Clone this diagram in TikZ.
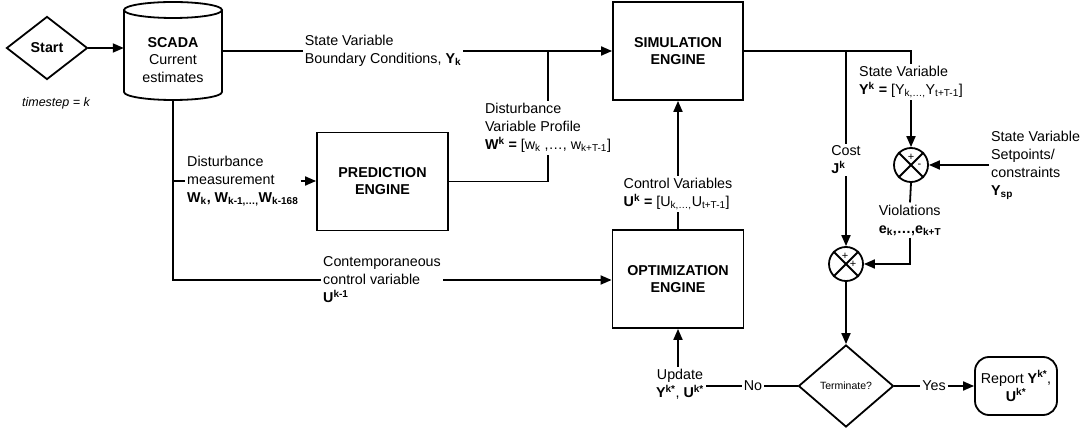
\documentclass[tikz,border=0pt]{standalone}
\usepackage{fontspec}
\setmainfont{Liberation Sans}
\usetikzlibrary{shapes.geometric,arrows.meta,calc}

\tikzset{
  wire/.style={line width=1.8pt},
  arr/.style={wire,-{Triangle[length=11pt,width=9pt]}},
  proc/.style={draw,line width=1.8pt,minimum width=131pt,minimum height=98pt,
    font=\bfseries\fontsize{14.3}{17}\selectfont,align=center,inner sep=0pt},
  lbl/.style={font=\fontsize{14.3}{18}\selectfont,align=left,inner sep=2pt},
  lblc/.style={lbl,align=center},
  sumnode/.style={circle,draw,line width=1.8pt,minimum size=34pt,inner sep=0pt},
  sign/.style={font=\fontsize{11}{11}\selectfont,inner sep=0pt},
  decision/.style={diamond,draw,line width=1.8pt,inner sep=0pt,aspect=1},
}

\begin{document}
\begin{tikzpicture}[x=1pt,y=1pt]
\useasboundingbox (0,0) rectangle (1088,-430);

% start and data source
\node[decision,minimum width=81pt,minimum height=63pt,
      font=\bfseries\fontsize{14.3}{17}\selectfont] (start) at (47,-48) {Start};
\node[font=\itshape\fontsize{12.5}{15}\selectfont] (ts) at (56,-103) {timestep = k};

\draw[wire] (124,-10) -- (124,-92) arc[start angle=180,end angle=360,x radius=49,y radius=8] -- (222,-10);
\draw[wire] (173,-10) ellipse [x radius=49,y radius=8];
\node[minimum width=98pt,minimum height=98pt,inner sep=0pt] (scada) at (173,-51) {};
\node[font=\fontsize{14.3}{17.5}\selectfont,align=center] (scadatext) at (173,-60)
  {\textbf{SCADA}\\Current\\estimates};

% engines
\node[proc,minimum width=130pt] (sim) at (678,-51) {SIMULATION\\ENGINE};
\node[proc] (pred) at (382.5,-181.5) {PREDICTION\\ENGINE};
\node[proc] (opt) at (678,-279) {OPTIMIZATION\\ENGINE};

% summing junctions
\node[sumnode] (c1) at (911,-165) {};
\draw[wire] (c1.45) -- (c1.225) (c1.135) -- (c1.315);
\node[sign] (c1a) at ($(c1)+(0,8)$) {+};
\node[sign] (c1b) at ($(c1)+(8.5,-1)$) {-};
\node[sumnode] (c2) at (846,-264) {};
\draw[wire] (c2.45) -- (c2.225) (c2.135) -- (c2.315);
\node[sign] (c2a) at ($(c2)+(-1,8)$) {+};
\node[sign] (c2b) at ($(c2)+(7,0)$) {+};

% termination
\node[decision,minimum width=95pt,minimum height=82pt,
      font=\fontsize{10.5}{12}\selectfont] (term) at (846,-386) {Terminate?};
\node[draw,line width=1.8pt,rounded corners=14pt,minimum width=82pt,minimum height=58pt,
      inner sep=0pt,align=center,font=\fontsize{14.3}{18}\selectfont] (report) at (1016,-386)
  {Report \textbf{Y\textsuperscript{k*}},\\\textbf{U\textsuperscript{k*}}};

% connector labels
\node[lbl] (lblY) at (383,-51) {State Variable\\Boundary Conditions, \textbf{Y\textsubscript{k}}};
\node[lbl] (lblW) at (548,-128) {Disturbance\\Variable Profile\\\textbf{W\textsuperscript{k} =} [w\textsubscript{k} ,…, w\textsubscript{k+T-1}]};
\node[lbl,anchor=west] (lblDM) at (185,-181) {Disturbance\\measurement\\\textbf{W\textsubscript{k}, W\textsubscript{k-1,…,}W\textsubscript{k-168}}};
\node[lbl,anchor=west] (lblCV) at (321,-280) {Contemporaneous\\control variable\\\textbf{U\textsuperscript{k-1}}};
\node[lbl] (lblCtrl) at (678,-194) {Control Variables\\\textbf{U\textsuperscript{k} =} [U\textsubscript{k,…,}U\textsubscript{t+T-1}]};
\node[lbl] (lblYk) at (911,-82) {State Variable\\\textbf{Y\textsuperscript{k} =} [Y\textsubscript{k,…,}Y\textsubscript{t+T-1}]};
\node[lbl] (lblJ) at (846,-160) {Cost\\\textbf{J\textsuperscript{k}}};
\node[lbl,anchor=west] (lblSP) at (989,-165) {State Variable\\Setpoints/\\constraints\\\textbf{Y\textsubscript{sp}}};
\node[lbl] (lblV) at (910,-220) {Violations\\\textbf{e\textsubscript{k},…,e\textsubscript{k+T}}};
\node[lblc] (lblUp) at (680,-384) {Update\\\textbf{Y\textsuperscript{k*}}, \textbf{U\textsuperscript{k*}}};
\node[lbl] (lblNo) at (753,-386) {No};
\node[lbl] (lblYes) at (934,-386) {Yes};

% connectors
\draw[arr] (start.east) -- (start.east -| scada.west);
\draw[wire] (scada.east) -- (lblY.west);
\draw[arr] (lblY.east) -- (sim.west);
\coordinate (jW) at (lblW.north |- sim.west);
\draw[wire] (jW) -- (lblW.north);
\draw[wire] (pred.east) -- (pred.east -| lblW.south) -- (lblW.south);

\coordinate (cbl) at (scada.south |- lblCV.west);
\draw[wire] (scada.south) -- (cbl) -- (lblCV.west);
\draw[arr] (lblCV.east) -- (lblCV.east -| opt.west);
\draw[wire] (scada.south |- lblDM.west) -- (lblDM.west);
\draw[arr] (lblDM.east) -- (lblDM.east -| pred.west);

\draw[wire] (opt.north) -- (lblCtrl.south);
\draw[arr] (lblCtrl.north) -- (sim.south);

\coordinate (jY) at (lblYk.north |- sim.east);
\coordinate (jJ) at (lblJ.north |- sim.east);
\draw[wire] (sim.east) -- (jY) -- (lblYk.north);
\draw[arr] (lblYk.south) -- (c1.north);
\draw[wire] (jJ) -- (lblJ.north);
\draw[arr] (lblJ.south) -- (c2.north);
\draw[arr] (lblSP.west) -- (c1.east);
\draw[wire] (c1.south) -- (lblV.north);
\draw[arr] (lblV.south) -- (lblV.south |- c2.east) -- (c2.east);
\draw[arr] (c2.south) -- (term.north);

\draw[wire] (term.east) -- (lblYes.west);
\draw[arr] (lblYes.east) -- (report.west);
\draw[wire] (term.west) -- (lblNo.east);
\draw[wire] (lblNo.west) -- (lblNo.west -| lblUp.east);
\draw[arr] (lblUp.north -| opt.south) -- (opt.south);
\end{tikzpicture}
\end{document}
